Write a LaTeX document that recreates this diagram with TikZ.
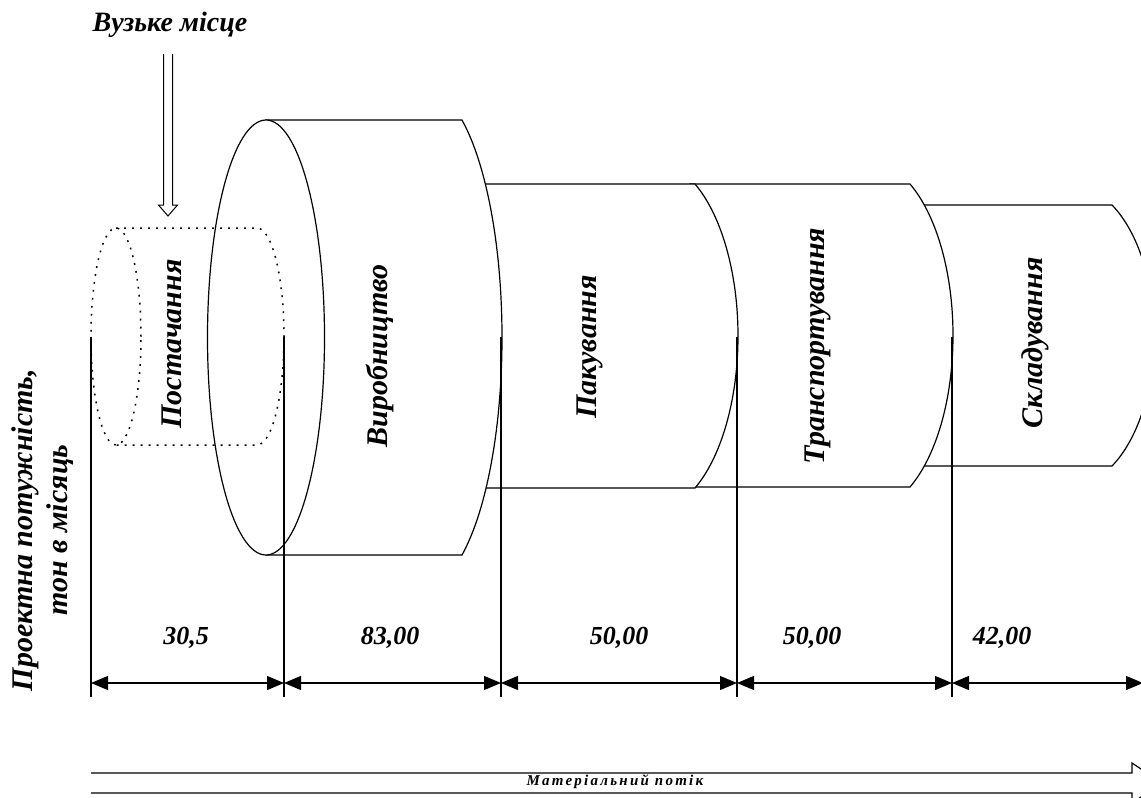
\documentclass[tikz,border=0pt]{standalone}
\usepackage{fontspec}
\setmainfont{Liberation Serif}
\usetikzlibrary{arrows.meta, calc}

\begin{document}
\begin{tikzpicture}[
        x=1pt, y=-1pt,
        drum/.style = {
            draw,
            line width=1.2pt,
            fill=white
        },
        supply/.style = {
            draw,
            line width=1.5pt,
            dash pattern=on 1.8pt off 6.2pt
        },
        stage/.style = {
            rotate=90,
            font=\fontsize{30}{34}\selectfont\bfseries\itshape
        },
        qty/.style = {
            font=\fontsize{26}{30}\selectfont\bfseries\itshape
        },
        ext/.style = {line width=1.2pt},
        dimline/.style = {
            line width=1.2pt,
            {Triangle[length=17pt,width=14pt]}-{Triangle[length=17pt,width=14pt]}
        }
    ]
        \useasboundingbox (0,0) rectangle (1141,798);
        \clip (0,0) rectangle (1141,798);

        % drums, from the right to the left
        \foreach \xl/\xr/\yt/\yb/\b in {900/1112/205/466/42, 690/910/184/487/43,
                                        470/695/184/488/43, 266/462/120/555/40} {
            \pgfmathsetmacro\h{(\yb-\yt)/2}
            \draw[drum] (\xl,\yt) -- (\xr,\yt)
                .. controls ({\xr+0.619*\b},{\yt+0.206*\h}) and ({\xr+\b},{\yt+0.587*\h}) .. ({\xr+\b},{\yt+\h})
                .. controls ({\xr+\b},{\yb-0.587*\h}) and ({\xr+0.619*\b},{\yb-0.206*\h}) .. (\xr,\yb)
                -- (\xl,\yb) -- cycle;
        }
        \draw[drum] (266,337.5) ellipse [x radius=58.5pt, y radius=217.5pt];

        % bottleneck
        \draw[supply] (116,336.5) ellipse [x radius=25pt, y radius=108.5pt];
        \draw[supply] (116,228) -- (257,228)
            .. controls (271.9,228) and (284,276.6) .. (284,336.5)
            .. controls (284,396.4) and (271.9,445) .. (257,445) -- (116,445);

        \node [stage] (supplytxt)    at (172,344)  {Постачання};
        \node [stage] (production)   at (380,356)  {Виробництво};
        \node [stage] (packing)      at (590,347)  {Пакування};
        \node [stage] (transport)    at (818,346)  {Транспортування};
        \node [stage] (storage)      at (1035,343) {Складування};

        \node [font=\fontsize{28}{32}\selectfont\bfseries\itshape] (bneck) at (170,25) {Вузьке місце};
        \coordinate (btop) at (168,54);
        \coordinate (btip) at (168,216);
        \draw[line width=1pt] ($(btop)+(-4.5,0)$) -- ($(btip)+(-4.5,-11)$) -- ($(btip)+(-9.5,-11)$)
            -- (btip) -- ($(btip)+(9.5,-11)$) -- ($(btip)+(4.5,-11)$) -- ($(btop)+(4.5,0)$);

        \node [rotate=90, align=center, font=\fontsize{30}{35}\selectfont\bfseries\itshape]
            (capacity) at (43,530) {Проектна потужність,\\тон в місяць};

        % dimensions
        \coordinate (p0) at (91,337);
        \coordinate (p1) at (284,337);
        \coordinate (p2) at (501,337);
        \coordinate (p3) at (737,337);
        \coordinate (p4) at (952,337);
        \coordinate (p5) at (1143,337);
        \foreach \i in {0,...,4} {
            \draw[ext] (p\i) -- ++(0,360);
        }
        \foreach \i [count=\j] in {0,...,4} {
            \draw[dimline] ($(p\i)+(0,346)$) -- ($(p\j)+(0,346)$);
        }

        \node [qty] (v1) at (186,638)  {30,5};
        \node [qty] (v2) at (390,638)  {83,00};
        \node [qty] (v3) at (619,638)  {50,00};
        \node [qty] (v4) at (812,638)  {50,00};
        \node [qty] (v5) at (1002,638) {42,00};

        % material flow
        \coordinate (f0) at (91,783);
        \coordinate (f1) at (1132,783);
        \draw[line width=1.2pt] ($(f0)+(0,-10)$) -- ($(f1)+(0,-10)$) -- ($(f1)+(0,-20)$)
            -- ($(f1)+(30,0)$) -- ($(f1)+(0,20)$) -- ($(f1)+(0,10)$) -- ($(f0)+(0,10)$);
        \node [font=\fontsize{15}{18}\selectfont\bfseries\itshape\addfontfeature{LetterSpace=15}]
            (flow) at (615,782) {Матеріальний потік};
\end{tikzpicture}
\end{document}
